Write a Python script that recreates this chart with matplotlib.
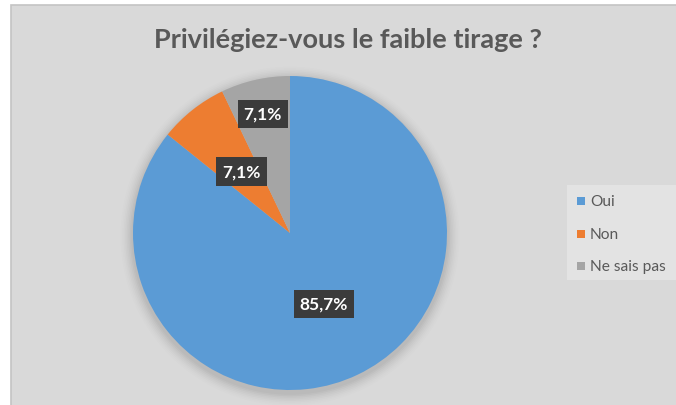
import numpy as np
import matplotlib
matplotlib.use("Agg")
import matplotlib.pyplot as plt
from matplotlib.patches import Rectangle, Circle

# data
categories = ["Oui", "Non", "Ne sais pas"]
shares = [85.7, 7.1, 7.1]
colors = ["#5B9BD5", "#ED7D31", "#A5A5A5"]
title = "Privilégiez-vous le faible tirage ?"

W, H = 676, 406
fig = plt.figure(figsize=(W / 100, H / 100), dpi=100)
fig.patch.set_facecolor("white")

# chart area background (gray panel with thin border)
bg = fig.add_axes([0, 0, 1, 1])
bg.set_xlim(0, W)
bg.set_ylim(H, 0)
bg.axis("off")
bg.add_patch(Rectangle((11, 6), W - 11 + 5, H, facecolor="#D9D9D9",
                       edgecolor="#C4C4C4", linewidth=1.2))
# legend box
bg.add_patch(Rectangle((567, 186), 110, 95, facecolor="#E3E3E3", edgecolor="none"))

fig.text(348 / W, 1 - 40 / H, title, ha="center", va="center",
         fontsize=19.5, fontweight="bold", color="#595959", family="Lato")

# pie axes
cx, cy, r = 290, 234, 157
ax = fig.add_axes([(cx - r) / W, (H - cy - r) / H, 2 * r / W, 2 * r / H])
ax.axis("off")

wedges, _ = ax.pie(shares, colors=colors, startangle=90, counterclock=False,
                   radius=1.0, wedgeprops=dict(linewidth=0))
for w in wedges:
    w.set_zorder(2)
ax.set_xlim(-1, 1)
ax.set_ylim(-1, 1)
ax.set_aspect("equal")

# soft shadow under the pie
for i, a in enumerate(np.linspace(0.05, 0.012, 8)):
    ax.add_patch(Circle((0.0, -0.02), 1.0 + 0.01 * (i + 1), facecolor="black",
                        alpha=a * 0.5, edgecolor="none", zorder=0, clip_on=False))

label_radius = [0.5, 0.5, 0.78]
for w, val, lr in zip(wedges, shares, label_radius):
    mid = np.deg2rad((w.theta1 + w.theta2) / 2)
    txt = f"{val:.1f}%".replace(".", ",")
    ax.text(lr * np.cos(mid), lr * np.sin(mid), txt, ha="center", va="center",
            fontsize=12.5, fontweight="bold", color="white", family="Lato", zorder=5,
            bbox=dict(boxstyle="square,pad=0.35", facecolor="#3B3B3B",
                      edgecolor="none"))

# legend
leg_y = [202, 235, 267]
for name, col, y in zip(categories, colors, leg_y):
    bg.add_patch(Rectangle((577, y - 4), 8, 8, facecolor=col, edgecolor="none"))
    bg.text(590, y, name, ha="left", va="center", fontsize=11.2,
            color="#595959", family="Lato")

fig.savefig("out.png", dpi=100)
